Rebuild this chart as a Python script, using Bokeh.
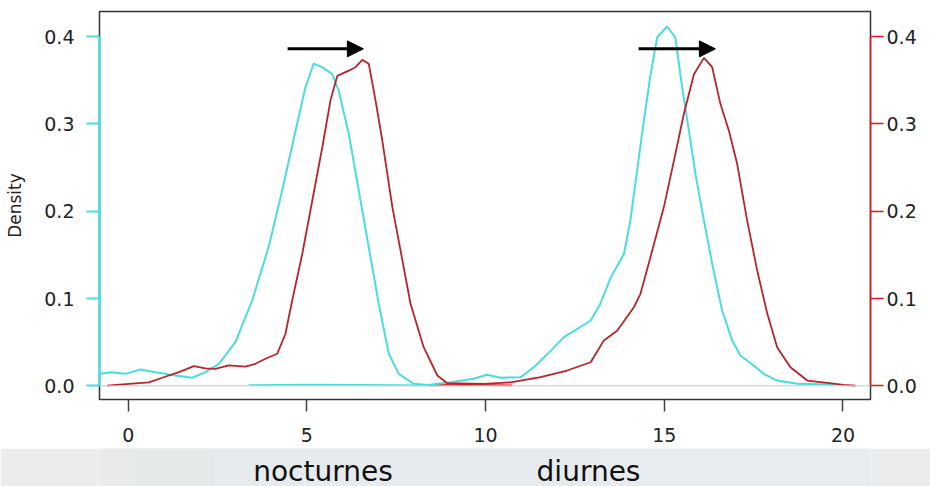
from bokeh.plotting import figure
from bokeh.layouts import column
from bokeh.models import (Range1d, LinearAxis, FixedTicker, NumeralTickFormatter,
                          Span, Arrow, NormalHead)
from bokeh.core.properties import value
from bokeh.embed import file_html
from bokeh.resources import INLINE

# ---- data ----
cyan_x = [-0.77, -0.49, -0.08, 0.34, 0.76, 1.32, 1.79, 2.16, 2.54, 3.00, 3.47, 3.93,
          4.31, 4.68, 4.96, 5.19, 5.43, 5.71, 5.89, 6.17, 6.45, 6.73, 7.01, 7.29,
          7.57, 7.99, 8.37, 9.02, 9.67, 10.04, 10.42, 10.98, 11.35, 11.82, 12.19,
          12.56, 12.94, 13.21, 13.50, 13.87, 14.05, 14.24, 14.43, 14.61, 14.80,
          15.08, 15.31, 15.50, 15.69, 15.87, 16.11, 16.34, 16.62, 16.90, 17.13,
          17.50, 17.78, 18.16, 18.72, 19.78]
cyan_y = [0.0137, 0.0156, 0.0137, 0.0187, 0.0156, 0.0118, 0.0092, 0.0156, 0.0252,
          0.050, 0.098, 0.159, 0.224, 0.292, 0.342, 0.369, 0.365, 0.357, 0.338,
          0.289, 0.224, 0.159, 0.094, 0.037, 0.0137, 0.0023, 0.001, 0.004, 0.008,
          0.0126, 0.0092, 0.0099, 0.0213, 0.040, 0.0557, 0.065, 0.0748, 0.094,
          0.124, 0.151, 0.189, 0.247, 0.304, 0.355, 0.399, 0.4116, 0.399, 0.342,
          0.292, 0.243, 0.189, 0.140, 0.086, 0.052, 0.0347, 0.0233, 0.0137, 0.006,
          0.0023, 0.0015]

red_x = [-0.59, 0.02, 0.58, 0.95, 1.42, 1.84, 2.16, 2.44, 2.81, 3.28, 3.56, 3.84,
         4.17, 4.40, 4.59, 4.87, 5.15, 5.43, 5.66, 5.85, 6.17, 6.36, 6.55, 6.73,
         6.92, 7.11, 7.39, 7.62, 7.90, 8.27, 8.65, 8.93, 9.95, 10.70, 11.54, 12.28,
         12.94, 13.31, 13.68, 14.15, 14.33, 14.61, 14.99, 15.27, 15.55, 15.83,
         16.11, 16.34, 16.57, 16.81, 17.04, 17.32, 17.60, 17.88, 18.16, 18.53,
         19.00, 19.56, 20.02, 20.35]
red_y = [0.0003, 0.0023, 0.004, 0.0092, 0.0156, 0.0225, 0.020, 0.0195, 0.0233,
         0.022, 0.0252, 0.031, 0.0367, 0.0596, 0.098, 0.151, 0.212, 0.273, 0.327,
         0.355, 0.361, 0.365, 0.3734, 0.369, 0.327, 0.281, 0.205, 0.155, 0.094,
         0.044, 0.0118, 0.003, 0.0023, 0.004, 0.0099, 0.0175, 0.027, 0.052, 0.063,
         0.090, 0.105, 0.147, 0.205, 0.258, 0.312, 0.357, 0.3757, 0.365, 0.323,
         0.292, 0.254, 0.189, 0.132, 0.083, 0.044, 0.0213, 0.006, 0.0034, 0.0011,
         0.0003]

# faint near-zero traces left over from the overlaid plots
cyan_flat_x = [3.37, 5.0, 6.5, 8.37]
cyan_flat_y = [0.0008, 0.0012, 0.0010, 0.0005]
red_flat_x = [8.40, 9.50, 10.75]
red_flat_y = [0.0006, 0.0010, 0.0005]

x_ticks = [0, 5, 10, 15, 20]
y_ticks = [0.0, 0.1, 0.2, 0.3, 0.4]

# shift arrows (start x, end x, height)
arrow_x0 = [4.46, 14.28]
arrow_x1 = [6.58, 16.43]
arrow_y = [0.386, 0.386]

banner_labels = ["nocturnes", "diurnes"]
banner_label_x = [5.45, 12.88]

# ---- styling ----
CYAN = "#4adcdf"
RED_LINE = "#b5252b"
RED_AXIS = "#e0141c"
FONT = "DejaVu Sans"
W, H_MAIN, H_BANNER = 930, 448, 38
BORDER_L, BORDER_R, BORDER_T, BORDER_B = 99, 60, 11, 49
X_LO, X_HI = -0.803, 20.77
Y_LO, Y_HI = -0.0157, 0.4288

p = figure(width=W, height=H_MAIN, output_backend="svg", toolbar_location=None,
           x_range=Range1d(X_LO, X_HI), y_range=Range1d(Y_LO, Y_HI),
           min_border_left=BORDER_L, min_border_right=BORDER_R,
           min_border_top=BORDER_T, min_border_bottom=BORDER_B)
p.grid.visible = False
p.outline_line_color = "#333333"
p.outline_line_width = 1.5
p.background_fill_color = "white"
p.border_fill_color = "white"

# x axis
xa = p.xaxis[0]
xa.ticker = FixedTicker(ticks=x_ticks)
xa.axis_line_color = None
xa.major_tick_line_color = "#444444"
xa.major_tick_line_width = 1.5
xa.major_tick_out = 12
xa.major_tick_in = 0
xa.minor_tick_line_color = None
xa.major_label_text_font = FONT
xa.major_label_text_font_size = "19px"
xa.major_label_text_color = "#222222"
xa.major_label_standoff = 16

# left y axis (cyan)
ya = p.yaxis[0]
ya.ticker = FixedTicker(ticks=y_ticks)
ya.formatter = NumeralTickFormatter(format="0.0")
ya.bounds = (0, 0.4)
ya.axis_line_color = CYAN
ya.axis_line_width = 2.5
ya.major_tick_line_color = CYAN
ya.major_tick_line_width = 2
ya.major_tick_out = 13
ya.major_tick_in = 0
ya.minor_tick_line_color = None
ya.major_label_text_font = FONT
ya.major_label_text_font_size = "19px"
ya.major_label_text_color = "#222222"
ya.major_label_standoff = 12
ya.axis_label = "Density"
ya.axis_label_text_font = FONT
ya.axis_label_text_font_size = "17px"
ya.axis_label_text_font_style = "normal"
ya.axis_label_text_color = "#222222"
ya.axis_label_standoff = 16

# right y axis (red)
ra = LinearAxis(ticker=FixedTicker(ticks=y_ticks),
                formatter=NumeralTickFormatter(format="0.0"))
ra.bounds = (0, 0.4)
ra.axis_line_color = RED_AXIS
ra.axis_line_width = 1.5
ra.major_tick_line_color = RED_AXIS
ra.major_tick_line_width = 1.5
ra.major_tick_out = 13
ra.major_tick_in = 0
ra.minor_tick_line_color = None
ra.major_label_text_font = FONT
ra.major_label_text_font_size = "19px"
ra.major_label_text_color = "#222222"
ra.major_label_standoff = 3
p.add_layout(ra, "right")

# zero line
p.add_layout(Span(location=0, dimension="width", line_color="#c9c9c9", line_width=1))

# curves
p.line(cyan_flat_x, cyan_flat_y, line_color=CYAN, line_width=1.8)
p.line(red_flat_x, red_flat_y, line_color="#e0141c", line_width=1.8)
p.line(cyan_x, cyan_y, line_color=CYAN, line_width=2)
p.line(red_x, red_y, line_color=RED_LINE, line_width=1.8)

# arrows
for x0, x1, yy in zip(arrow_x0, arrow_x1, arrow_y):
    p.add_layout(Arrow(x_start=x0, y_start=yy, x_end=x1, y_end=yy,
                       line_color="black", line_width=3,
                       end=NormalHead(size=16, fill_color="black", line_color="black",
                                      line_width=1)))

# ---- grey banner under the chart (frame aligned with the chart's frame) ----
px_per_unit = (W - BORDER_L - BORDER_R) / (X_HI - X_LO)
b = figure(width=W, height=H_BANNER, output_backend="svg", toolbar_location=None,
           x_range=Range1d(X_LO, X_HI), y_range=Range1d(0, H_BANNER),
           min_border_left=BORDER_L, min_border_right=BORDER_R,
           min_border_top=0, min_border_bottom=0,
           x_axis_location=None, y_axis_location=None)
b.grid.visible = False
b.outline_line_color = None
b.background_fill_color = "#e8ecef"
b.border_fill_color = "#eaeced"

# soft shading bands near the banner's left end (screen pixels from the frame edge)
bands = [(0, 36, "#e9ebea"), (36, 116, "#e6e9e9"), (116, 500, "#e7ebed")]
b.quad(left=[X_LO + a / px_per_unit for a, _, _ in bands],
       right=[X_LO + c / px_per_unit for _, c, _ in bands],
       bottom=0, top=H_BANNER, fill_color=[c for _, _, c in bands],
       line_color=None)

b.text(x=banner_label_x, y=[15.5, 15.5], text=banner_labels,
       text_font=value(FONT), text_font_size="28px", text_color="#111111",
       text_align="center", text_baseline="middle")

layout = column(p, b, spacing=0)
open("out.html", "w").write(file_html(layout, INLINE))
